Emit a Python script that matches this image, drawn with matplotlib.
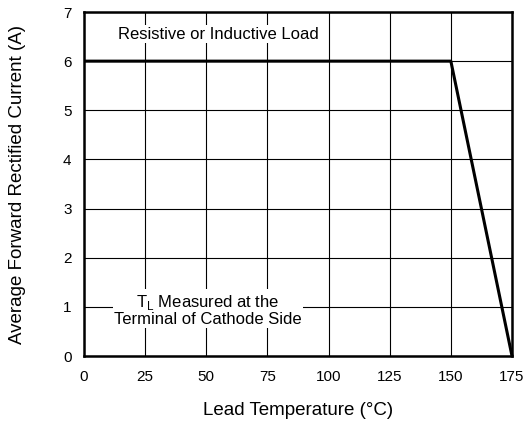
import numpy as np
import matplotlib
matplotlib.use('Agg')
import matplotlib.pyplot as plt

plt.rcParams['font.family'] = ['Liberation Sans', 'DejaVu Sans']

# 降额曲线数据
temp = [0, 150, 175]
current = [6, 6, 0]
x_ticks = [0, 25, 50, 75, 100, 125, 150, 175]
y_ticks = [0, 1, 2, 3, 4, 5, 6, 7]

fig = plt.figure(figsize=(5.27, 4.23), dpi=100)
ax = fig.add_axes([84 / 527, 1 - 356 / 423, 428 / 527, 344 / 423])

ax.plot(temp, current, color='black', lw=2.2, solid_capstyle='butt', zorder=4, clip_on=False)
ax.set_xlim(0, 175)
ax.set_ylim(0, 7)
ax.set_xticks(x_ticks)
ax.set_yticks(y_ticks)
ax.tick_params(length=0, labelsize=11)
ax.tick_params(axis='x', pad=10)
ax.tick_params(axis='y', pad=9)
ax.grid(True, color='black', lw=0.8)
ax.set_axisbelow(True)
for s in ax.spines.values():
    s.set_linewidth(1.8)

ax.set_xlabel('Lead Temperature (°C)', fontsize=13.5)
ax.set_ylabel('Average Forward Rectified Current (A)', fontsize=13.5)
ax.xaxis.set_label_coords(0.5, -(410 - 356) / 344, transform=ax.transAxes)
ax.yaxis.set_label_coords(-(84 - 18) / 428, 0.5, transform=ax.transAxes)
ax.xaxis.label.set_va('center')
ax.yaxis.label.set_va('center')

box = dict(facecolor='white', edgecolor='none', pad=1)
ax.text(54.8, 6.55, 'Resistive or Inductive Load', ha='center', va='center',
        fontsize=12, bbox=box, zorder=3)
ax.text(50.7, 0.94, 'T$_\\mathregular{L}$ Measured at the\nTerminal of Cathode Side',
        ha='center', va='center', fontsize=12, bbox=box, zorder=3, linespacing=1.05)

fig.savefig('out.png', dpi=100)
